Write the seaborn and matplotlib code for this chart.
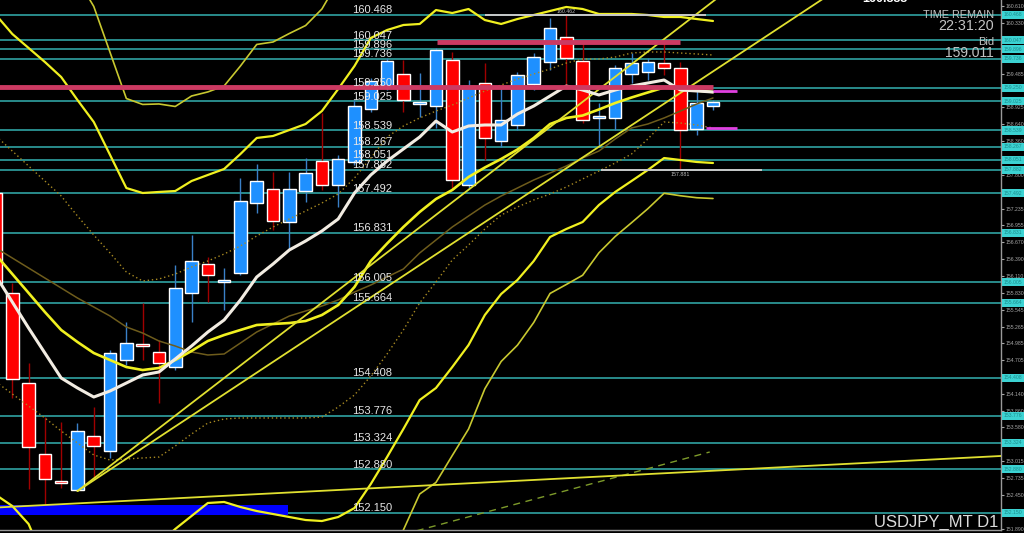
import matplotlib
matplotlib.use("Agg")
import matplotlib.pyplot as plt
import matplotlib.transforms as mtransforms
import seaborn as sns

# USDJPY daily candles, oldest first (bar 0 is cut by the left edge)
opens = [157.495, 155.824, 154.321, 153.135, 152.684, 152.534, 153.436, 153.185, 154.705, 154.973,
         154.839, 154.588, 155.824, 156.309, 156.008, 156.159, 157.328, 157.562, 157.011, 157.528,
         158.029, 157.628, 158.013, 158.898, 159.265, 159.483, 158.981, 158.948, 159.716, 157.628,
         159.332, 158.363, 158.631, 159.315, 159.683, 160.101, 159.700, 158.748, 158.748, 159.483,
         159.516, 159.666, 159.583, 158.564, 158.948]
highs = [157.545, 155.992, 154.655, 153.753, 153.670, 153.653, 153.920, 154.872, 155.340, 155.657,
         155.040, 156.300, 156.793, 156.426, 156.242, 157.745, 157.979, 157.846, 157.846, 158.079,
         158.831, 158.130, 159.048, 159.416, 159.750, 159.716, 159.499, 159.917, 159.850, 159.382,
         159.666, 159.249, 159.516, 159.833, 160.418, 160.462, 160.000, 158.998, 159.633, 159.833,
         159.750, 160.000, 159.683, 159.215, 159.048]
lows = [155.875, 154.071, 152.551, 152.283, 152.567, 152.517, 152.751, 153.068, 154.622, 154.705,
        153.987, 154.538, 155.340, 155.674, 155.541, 156.125, 157.161, 156.877, 156.543, 157.345,
        157.545, 157.261, 157.963, 158.848, 159.215, 158.848, 158.764, 158.581, 157.545, 157.578,
        158.046, 158.263, 158.547, 159.215, 159.549, 159.299, 158.664, 158.263, 158.547, 159.332,
        159.382, 159.466, 157.881, 158.464, 158.882]
closes = [155.992, 154.388, 153.252, 152.718, 152.651, 153.519, 153.269, 154.822, 154.989, 154.939,
          154.655, 155.908, 156.359, 156.125, 156.042, 157.361, 157.695, 157.027, 157.562, 157.829,
          157.628, 158.063, 158.948, 159.366, 159.700, 159.048, 159.015, 159.883, 157.712, 159.282,
          158.414, 158.715, 159.466, 159.767, 160.251, 159.750, 158.715, 158.781, 159.583, 159.666,
          159.683, 159.583, 158.547, 158.998, 159.011]

# bollinger bands (2 sigma, 3 sigma, 1 sigma dotted) and moving averages, one value per bar
bb_upper = [160.468, 160.151, 159.917, 159.683, 159.432, 159.048, 158.681, 158.130, 157.578, 157.495,
            157.512, 157.528, 157.695, 157.796, 157.896, 158.146, 158.414, 158.447, 158.547, 158.647,
            158.864, 159.232, 159.616, 160.084, 160.217, 160.301, 160.318, 160.551, 160.501, 160.568,
            160.384, 160.318, 160.401, 160.468, 160.535, 160.602, 160.568, 160.485, 160.485, 160.485,
            160.468, 160.435, 160.435, 160.401, 160.368]
bb_mid = [156.459, 156.142, 155.825, 155.507, 155.207, 155.006, 154.822, 154.705, 154.588, 154.538,
          154.572, 154.705, 154.856, 155.023, 155.123, 155.207, 155.290, 155.307, 155.323, 155.357,
          155.457, 155.624, 155.925, 156.359, 156.651, 156.927, 157.178, 157.395, 157.545, 157.762,
          157.921, 158.063, 158.221, 158.414, 158.647, 158.748, 158.789, 158.890, 158.998, 159.090,
          159.174, 159.257, 159.240, 159.207, 159.182]
bb_lower = [152.451, 152.267, 151.966, 151.331, 150.981, 150.964, 150.964, 151.281, 151.599, 151.582,
            151.632, 151.883, 152.100, 152.317, 152.334, 152.250, 152.183, 152.133, 152.083, 152.033,
            152.016, 152.083, 152.233, 152.634, 153.085, 153.553, 154.037, 154.238, 154.588, 154.956,
            155.457, 155.808, 156.042, 156.359, 156.760, 156.894, 157.010, 157.294, 157.512, 157.695,
            157.879, 158.079, 158.046, 158.013, 157.996]
bb3_upper = [162.473, 162.156, 161.963, 161.771, 161.545, 161.069, 160.611, 159.843, 159.073, 158.974,
             158.982, 158.940, 159.115, 159.183, 159.283, 159.616, 159.976, 160.017, 160.159, 160.292,
             160.568, 161.036, 161.462]
bb3_lower_start = 19
bb3_lower = [150.371, 150.296, 150.313, 150.387, 150.772, 151.302, 151.866, 152.467, 152.660, 153.110,
             153.553, 154.225, 154.681, 154.953, 155.332, 155.817, 155.967, 156.121, 156.496, 156.769,
             156.998, 157.232, 157.490, 157.449, 157.416, 157.403]
bb1_upper = [158.447, 158.196, 157.946, 157.695, 157.445, 157.111, 156.793, 156.493, 156.175, 156.025,
             156.058, 156.142, 156.259, 156.359, 156.476, 156.610, 156.777, 156.927, 157.061, 157.194,
             157.328, 157.478, 157.745, 158.079, 158.430, 158.614, 158.748, 158.864, 158.965, 159.082,
             159.199, 159.299, 159.399, 159.483, 159.566, 159.666, 159.733, 159.733, 159.766, 159.833,
             159.850, 159.850, 159.833, 159.817, 159.800]
bb1_lower = [154.338, 154.138, 153.937, 153.737, 153.520, 153.319, 153.119, 153.035, 153.052, 153.069,
             153.085, 153.269, 153.469, 153.653, 153.720, 153.737, 153.737, 153.737, 153.737, 153.737,
             153.753, 153.920, 154.121, 154.438, 154.806, 155.207, 155.658, 156.008, 156.376, 156.626,
             156.894, 157.127, 157.261, 157.378, 157.478, 157.595, 157.729, 157.862, 157.996, 158.146,
             158.397, 158.681, 158.664, 158.631, 158.581]
ma_fast = [156.108, 155.674, 155.240, 154.822, 154.405, 154.238, 154.087, 154.188, 154.321, 154.455,
           154.505, 154.722, 154.939, 155.173, 155.374, 155.708, 156.092, 156.309, 156.543, 156.693,
           156.860, 157.061, 157.495, 157.796, 158.029, 158.230, 158.430, 158.697, 158.514, 158.614,
           158.631, 158.631, 158.814, 158.948, 159.115, 159.282, 159.215, 159.132, 159.215, 159.282,
           159.332, 159.382, 159.215, 159.199, 159.182]
ma_slow = [156.576, 156.409, 156.242, 156.075, 155.908, 155.741, 155.591, 155.440, 155.257, 155.156,
           155.023, 154.939, 154.839, 154.789, 154.806, 154.989, 155.173, 155.307, 155.440, 155.524,
           155.607, 155.708, 155.841, 155.958, 156.092, 156.225, 156.493, 156.710, 156.927, 157.111,
           157.294, 157.445, 157.578, 157.712, 157.829, 157.946, 158.079, 158.196, 158.397, 158.581,
           158.647, 158.748, 158.864, 158.981, 159.082]

# drawn objects: trend lines (bar, price anchors), levels, boxes
trend_a = ([5, 46], [152.517, 161.114])
trend_b = ([5, 52], [152.517, 160.963])
base_trend = ([0, 62], [152.241, 153.107])
dash_trend = ([24, 43.8], [151.720, 153.169])
resist_low = (159.265, 0, 44.0)
resist_high = (160.017, 27.06, 42.0)
blue_zone = (0, 17.92, 152.117, 152.283)
high_mark = (160.462, 30.0, 43.6)
low_mark = (157.881, 37.1, 47.0)
magenta_marks = [(159.199, 44.0, 45.5), (158.581, 43.57, 45.5)]

levels = [160.468, 160.047, 159.896, 159.736, 159.250, 159.025, 158.539, 158.267, 158.051, 157.882,
          157.492, 156.831, 156.005, 155.664, 154.408, 153.776, 153.324, 152.880, 152.150]
axis_ticks = [160.610, 160.330, 159.485, 158.925, 158.640, 158.360, 157.800, 157.235, 156.955, 156.670,
              156.390, 156.110, 155.830, 155.545, 155.265, 154.985, 154.705, 154.140, 153.860, 153.580,
              153.015, 152.735, 152.450, 151.890]

sns.set_theme(style="dark", rc={"axes.facecolor": "black", "figure.facecolor": "black"})
plt.rcParams['font.family'] = ['Liberation Sans', 'DejaVu Sans']

fig = plt.figure(figsize=(10.24, 5.33), dpi=100)
ax = fig.add_axes([0, 3 / 533, 1001 / 1024, 530 / 533])
ax.set_facecolor("black")

# level lines and their labels
for lvl in levels:
    ax.axhline(lvl, color="#2fa3a3", lw=1.2, zorder=1)
    ax.annotate(f"{lvl:.3f}", xy=(21.85, lvl), xytext=(0, 1.2), textcoords="offset points",
                color="#e6e6e6", fontsize=8, ha="left", va="baseline", zorder=6)

# candles
bars = list(range(len(opens)))
up = [c >= o for o, c in zip(opens, closes)]
body_lo = [min(o, c) for o, c in zip(opens, closes)]
body_h = [max(abs(c - o), 0.03) for o, c in zip(opens, closes)]
ax.vlines(bars, lows, highs, colors=["#3a80c8" if u else "#a00000" for u in up], lw=1, zorder=2)
ax.bar(bars, body_h, bottom=body_lo, width=0.77,
       color=["#1e90ff" if u else "#ff0000" for u in up], zorder=2)

# blue zone at the bottom
x0, x1, lo, hi = blue_zone
ax.fill_between([x0, x1], lo, hi, color="#0000ff", lw=0, zorder=2)

# indicators
sns.lineplot(x=bars, y=bb1_upper, color="#a88a22", lw=1, ls=(0, (1, 2)), ax=ax, zorder=3)
sns.lineplot(x=bars, y=bb1_lower, color="#a88a22", lw=1, ls=(0, (1, 2)), ax=ax, zorder=3)
sns.lineplot(x=bars, y=ma_slow, color="#6e5c1c", lw=1.1, ax=ax, zorder=3)
sns.lineplot(x=bars[:len(bb3_upper)], y=bb3_upper, color="#c8c830", lw=1.2, ax=ax, zorder=3)
sns.lineplot(x=bars[bb3_lower_start:], y=bb3_lower, color="#c8c830", lw=1.2, ax=ax, zorder=3)
sns.lineplot(x=bars, y=bb_upper, color="#f0f020", lw=1.6, ax=ax, zorder=4)
sns.lineplot(x=bars, y=bb_lower, color="#f0f020", lw=1.6, ax=ax, zorder=4)
sns.lineplot(x=bars, y=bb_mid, color="#f0f020", lw=1.9, ax=ax, zorder=4)
sns.lineplot(x=bars, y=ma_fast, color="#f2ece2", lw=2.2, ax=ax, zorder=5)

# trend lines
for xs, ys in [trend_a, trend_b, base_trend]:
    sns.lineplot(x=xs, y=ys, color="#e0e030", lw=1.3, ax=ax, zorder=4)
sns.lineplot(x=dash_trend[0], y=dash_trend[1], color="#7d9a2a", lw=1, ls=(0, (5, 4)), ax=ax, zorder=3)

# horizontal objects
for price, xa, xb in [resist_low, resist_high]:
    ax.hlines(price, xa, xb, color="#cc3a62", lw=3.5, zorder=5)
for price, xa, xb in [high_mark, low_mark]:
    ax.hlines(price, xa, xb, color="#c8c8c8", lw=1.4, zorder=5)
for price, xa, xb in magenta_marks:
    ax.hlines(price, xa, xb, color="#e040e0", lw=2, zorder=5)
ax.annotate(f"{high_mark[0]:.3f}", xy=(35, high_mark[0]), xytext=(0, 1), textcoords="offset points",
            color="#bdbdbd", fontsize=3.8, ha="center", va="bottom")
ax.annotate(f"{low_mark[0]:.3f}", xy=(42, low_mark[0]), xytext=(0, -1.5), textcoords="offset points",
            color="#bdbdbd", fontsize=3.8, ha="center", va="top")

ax.set_xlim(0.2455, 61.675)
ax.set_ylim(151.866, 160.7185)
ax.set_xticks([])
ax.yaxis.tick_right()
ax.set_yticks(axis_ticks)
ax.set_yticklabels([f"{v:.3f}" for v in axis_ticks])
ax.tick_params(axis="y", colors="#a8a8a8", labelsize=3.7, length=2, width=0.8, pad=1.2)
ax.set_ylabel("")
ax.grid(False)
for side in ["top", "left"]:
    ax.spines[side].set_visible(False)
for side in ["right", "bottom"]:
    ax.spines[side].set_color("#9a9a9a")
    ax.spines[side].set_linewidth(1)

# cyan boxes for the level prices on the price scale
trans = mtransforms.blended_transform_factory(ax.transAxes, ax.transData)
for lvl in levels:
    ax.text(1.0025, lvl, f"{lvl:.3f}", transform=trans, fontsize=3.7, color="#1a8c8c",
            ha="left", va="center", clip_on=False, zorder=7,
            bbox=dict(boxstyle="square,pad=0.3", fc="#3cd2d2", ec="none"))

# terminal texts
fig.text(994 / 1024, 1 - 15.5 / 533, "TIME REMAIN", color="#c4c4c4", fontsize=7.8, ha="right", va="center")
fig.text(994 / 1024, 1 - 26.5 / 533, "22:31:20", color="#c4c4c4", fontsize=10.3, ha="right", va="center")
fig.text(994 / 1024, 1 - 42 / 533, "Bid", color="#c4c4c4", fontsize=8, ha="right", va="center")
fig.text(994 / 1024, 1 - 53 / 533, "159.011", color="#c4c4c4", fontsize=10, ha="right", va="center")
fig.text(885 / 1024, 1 - 5 / 533, "160.888", color="white", fontsize=9, fontweight="bold",
         ha="center", va="bottom")
fig.text(998 / 1024, 1 - 527 / 533, "USDJPY_MT D1", color="#dcdcdc", fontsize=12, ha="right",
         va="baseline")

fig.savefig("out.png", dpi=100, facecolor="black")
